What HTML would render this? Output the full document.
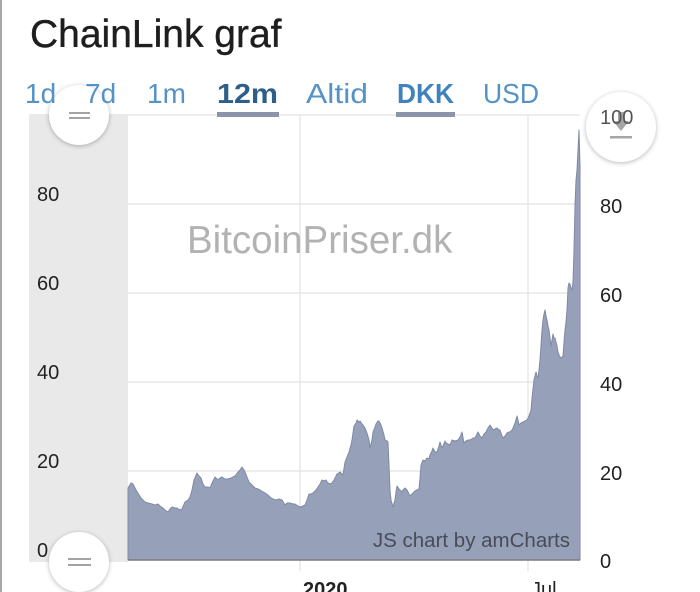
<!DOCTYPE html>
<html>
<head>
<meta charset="utf-8">
<style>
  html,body{margin:0;padding:0;background:#fff;}
  body{width:700px;height:592px;overflow:hidden;position:relative;font-family:"Liberation Sans",sans-serif;}
  svg{position:absolute;left:0;top:0;}
  .h{position:absolute;border-radius:50%;background:#fff;box-shadow:0 1px 5px rgba(0,0,0,0.28);}
</style>
</head>
<body>
<svg width="700" height="592" viewBox="0 0 700 592" xmlns="http://www.w3.org/2000/svg" font-family="Liberation Sans, sans-serif">
  <!-- left border -->
  <rect x="0" y="0" width="2" height="592" fill="#a8a8a8"/>
  <!-- title -->
  <text x="30" y="47" font-size="39" fill="#1e1e1e" stroke="#1e1e1e" stroke-width="0.4">ChainLink graf</text>

  <!-- gray scrollbar panel -->
  <rect x="29" y="114" width="99" height="448" fill="#e9e9e9"/>

  <!-- grid -->
  <g stroke="#e2e2e2" stroke-width="1.2">
    <line x1="128" y1="115" x2="580" y2="115"/>
    <line x1="128" y1="204" x2="580" y2="204"/>
    <line x1="128" y1="293" x2="580" y2="293"/>
    <line x1="128" y1="382" x2="580" y2="382"/>
    <line x1="128" y1="471" x2="580" y2="471"/>
    <line x1="300" y1="115" x2="300" y2="571"/>
    <line x1="528" y1="115" x2="528" y2="571"/>
  </g>

  <!-- watermark -->
  <text x="187" y="253" font-size="38.5" fill="#b2b2b2">BitcoinPriser.dk</text>

  <!-- area -->
  <polygon fill="#96a1b9" stroke="#7e8aa5" stroke-width="1" stroke-linejoin="round" points="128,560 128,488 131,483 133,484 136,490 141,498 145,502 148,503 152,504 155,505 158,504 160,506 163,508 165,510 168,512 170,509 172,507 175,508 177,508 180,510 182,509 185,502 188,500 190,497 192,490 194,480 197,473 199,476 201,478 203,484 205,487 208,487 210,488 212,483 215,477 218,480 220,478 222,477 225,479 228,479 231,478 235,476 238,472 240,470 242,467 244,470 245,472 247,477 249,482 252,485 255,488 258,489 260,490 263,492 265,493 268,495 270,497 273,499 276,500 279,499 282,500 285,505 287,503 290,503 293,504 295,504 298,506 300,507 303,506 305,505 307,500 309,494 311,494 313,493 315,491 316,490 318,487 320,484 322,480 324,481 326,480 328,483 331,484 334,480 337,474 340,472 343,475 345,462 347,457 349,452 351,445 352,440 354,426 356,423 357,420 359,422 360,421 362,424 363,425 365,428 367,433 369,440 370,448 372,440 373,432 375,427 376,424 378,421 379,421 381,425 382,428 384,435 385,440 387,441 388,442 389,465 390,490 391,500 393,507 394,503 395,500 396,492 397,486 399,489 400,490 402,492 403,490 405,488 407,490 409,494 410,496 412,494 413,493 415,491 417,490 419,489 420,478 421,465 423,460 425,461 427,458 429,459 430,455 432,451 433,448 435,452 437,452 439,446 440,442 442,448 443,446 445,441 446,443 448,444 450,445 452,440 455,441 458,440 460,437 462,432 464,443 466,441 468,440 470,440 473,438 475,438 478,432 480,436 482,438 484,434 486,432 488,428 490,425 492,428 493,430 495,429 497,428 499,430 500,430 502,436 503,438 505,436 507,433 509,432 510,432 512,430 513,428 515,423 517,416 518,420 519,425 521,423 523,422 525,421 527,420 529,416 531,410 532,398 534,380 535,376 536,372 537,376 538,378 539,370 540,360 541,345 542,330 543,320 544,314 545,310 546,316 547,320 548,326 549,330 550,338 551,346 552,340 553,334 554,338 555,338 556,342 557,346 558,352 559,355 560,357 561,358 562,357 563,356 564,342 565,330 566,322 567,310 568,288 569,283 570,284 571,288 572,290 573,282 574,250 575,205 576,180 577,170 578,150 579,130 580,165 580,560"/>

  <!-- baseline -->
  <line x1="128" y1="560" x2="580" y2="560" stroke="#7a7a7a" stroke-width="1.5"/>

  <!-- credit -->
  <text x="570" y="547" font-size="20.5" fill="#474c58" text-anchor="end">JS chart by amCharts</text>

  <!-- left axis labels -->
  <g font-size="20" fill="#222">
    <text x="37" y="201">80</text>
    <text x="37" y="290">60</text>
    <text x="37" y="379">40</text>
    <text x="37" y="468">20</text>
    <text x="37" y="557">0</text>
  </g>

  <!-- x labels -->
  <text x="303" y="596" font-size="20" font-weight="bold" fill="#222">2020</text>
  <text x="531" y="596" font-size="20" fill="#222">Jul</text>
</svg>

<!-- handles -->
<div class="h" style="left:49px;top:85px;width:60px;height:60px;"></div>
<div class="h" style="left:49px;top:532px;width:60px;height:60px;"></div>
<div class="h" style="left:586px;top:92px;width:70px;height:70px;"></div>

<svg width="700" height="592" viewBox="0 0 700 592" xmlns="http://www.w3.org/2000/svg" font-family="Liberation Sans, sans-serif" style="pointer-events:none">
  <!-- tabs -->
  <g font-size="28" fill="#5592c6">
    <text x="25" y="103">1d</text>
    <text x="85" y="103">7d</text>
    <text x="147" y="103">1m</text>
    <text x="217" y="103" font-weight="bold" fill="#2e5f88" textLength="61" lengthAdjust="spacingAndGlyphs">12m</text>
    <text x="306" y="103" textLength="62" lengthAdjust="spacingAndGlyphs">Altid</text>
    <text x="397" y="103" font-weight="bold" fill="#3f82bd" textLength="57" lengthAdjust="spacingAndGlyphs">DKK</text>
    <text x="483" y="103" textLength="56" lengthAdjust="spacingAndGlyphs">USD</text>
  </g>
  <rect x="217" y="112" width="62" height="5" fill="#8a95ab"/>
  <rect x="396" y="112" width="59" height="5" fill="#8a95ab"/>
  <!-- grips -->
  <g stroke="#a3a3a3" stroke-width="2">
    <line x1="69" y1="113" x2="90" y2="113"/>
    <line x1="69" y1="118" x2="90" y2="118"/>
    <line x1="68" y1="559" x2="91" y2="559"/>
    <line x1="68" y1="565" x2="91" y2="565"/>
  </g>
  <!-- export icon -->
  <polygon points="613,121 629,121 621,131" fill="#a6a6a6"/>
  <rect x="618" y="112" width="6" height="10" fill="#a6a6a6"/>
  <rect x="610" y="136" width="22" height="2.5" fill="#a6a6a6"/>
  <!-- right axis labels -->
  <g font-size="20" fill="#222">
    <text x="600" y="124" fill="#555">100</text>
    <text x="600" y="213">80</text>
    <text x="600" y="302">60</text>
    <text x="600" y="391">40</text>
    <text x="600" y="480">20</text>
    <text x="600" y="568">0</text>
  </g>
</svg>
</body>
</html>
